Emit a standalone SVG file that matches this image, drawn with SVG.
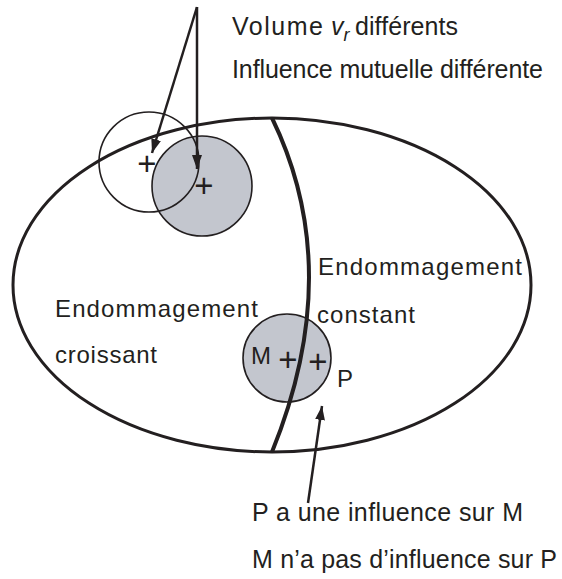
<svg xmlns="http://www.w3.org/2000/svg" width="562" height="579" viewBox="0 0 562 579">
<defs>
<style>
text{font-family:"Liberation Sans",Arial,sans-serif;font-size:24px;fill:#231f20}
.big{font-size:25px}
.plus{font-size:33px;text-anchor:middle}
.gray{fill:#c3c6ce;stroke:#231f20;stroke-width:1.6}
.thin{fill:none;stroke:#231f20;stroke-width:1.6}
.arrow{fill:none;stroke:#231f20;stroke-width:2.5}
</style>
<marker id="ah" viewBox="0 0 14 10" refX="14" refY="5" markerWidth="14" markerHeight="10" markerUnits="userSpaceOnUse" orient="auto">
<path d="M0,0 L14,5 L0,10 z" fill="#231f20"/>
</marker>
</defs>
<rect width="562" height="579" fill="#ffffff"/>
<g id="domain">
<ellipse cx="272" cy="285" rx="259" ry="167" fill="none" stroke="#231f20" stroke-width="3"/>
</g>
<g id="circles-top">
<circle cx="202" cy="186" r="50" class="gray"/>
<circle cx="149" cy="162" r="50" class="thin"/>
<text class="plus" x="147" y="175">+</text>
<text class="plus" x="204" y="197">+</text>
</g>
<g id="circle-MP">
<circle cx="287" cy="358" r="44" class="gray"/>
<text x="251" y="364">M</text>
<text class="plus" x="288" y="371">+</text>
<text class="plus" x="318" y="373">+</text>
<text x="337" y="387">P</text>
</g>
<g id="front">
<path d="M272,118 Q346,270 272,452" fill="none" stroke="#231f20" stroke-width="4"/>
</g>
<g id="connectors">
<line x1="197" y1="7" x2="152" y2="153" class="arrow" marker-end="url(#ah)"/>
<line x1="197" y1="7" x2="197" y2="169" class="arrow" marker-end="url(#ah)"/>
<line x1="308" y1="503" x2="322" y2="406" class="arrow" marker-end="url(#ah)"/>
</g>
<g id="labels">
<text class="big" x="232" y="35"><tspan textLength="91">Volume</tspan><tspan x="331" font-style="italic">v</tspan><tspan dy="6" font-size="18" font-style="italic">r</tspan><tspan x="355" dy="-6" textLength="103">différents</tspan></text>
<text class="big" x="232" y="78" textLength="311">Influence mutuelle différente</text>
<text x="318" y="275" textLength="204">Endommagement</text>
<text x="317" y="323" textLength="98">constant</text>
<text x="55" y="317" textLength="203">Endommagement</text>
<text x="55" y="363" textLength="102">croissant</text>
<text class="big" x="252" y="521" textLength="271">P a une influence sur M</text>
<text class="big" x="252" y="568" textLength="305">M n’a pas d’influence sur P</text>
</g>
</svg>
